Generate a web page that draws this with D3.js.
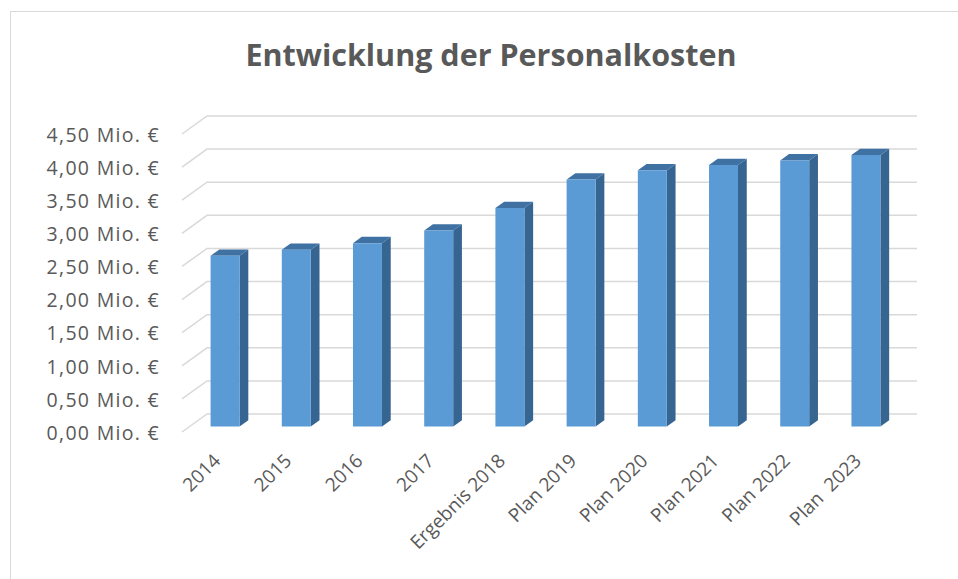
<!DOCTYPE html>
<html>
<head>
<meta charset="utf-8">
<script src="https://cdn.jsdelivr.net/npm/d3@7"></script>
<style>
  body { margin: 0; background: #fff; }
  svg { display: block; }
  text { font-family: "Open Sans", "Liberation Sans", sans-serif; fill: #595959; }
</style>
</head>
<body>
<svg id="chart" width="958" height="579"></svg>
<script>
// Chart data
var categories = ["2014", "2015", "2016", "2017", "Ergebnis 2018", "Plan 2019", "Plan 2020", "Plan 2021", "Plan 2022", "Plan  2023"];
var values = [2.58, 2.67, 2.77, 2.96, 3.30, 3.73, 3.87, 3.95, 4.02, 4.10]; // Mio. €
var yTicks = [0, 0.5, 1, 1.5, 2, 2.5, 3, 3.5, 4, 4.5];
var title = "Entwicklung der Personalkosten";

var svg = d3.select("#chart");

// chart border (right/bottom edges fall outside the picture)
svg.append("rect")
  .attr("x", 10.5).attr("y", 11.5)
  .attr("width", 980).attr("height", 600)
  .attr("fill", "#fff")
  .attr("stroke", "#d9d9d9")
  .attr("stroke-width", 1);

// front plane scales, depth is faked with an oblique offset
var x = d3.scaleBand()
  .domain(categories)
  .range([182, 894])
  .paddingInner(0.593)
  .paddingOuter(0.296);

var y = d3.scaleLinear()
  .domain([0, 4.5])
  .range([432, 134]);

var depthX = 25, depthY = -18;   // full depth of the floor
var barFront = 0.3, barBack = 0.65; // where the bar sits inside the depth

function shift(p, d) {
  return [p[0] + d * depthX, p[1] + d * depthY];
}

// gridlines: short diagonal on the floor side then across the back wall
var grid = svg.append("g").attr("class", "grid");
yTicks.forEach(function(t) {
  var front = [x.range()[0], y(t)];
  var back = shift(front, 1);
  grid.append("path")
    .attr("d", d3.line()([front, back, [917, back[1]]]))
    .attr("fill", "none")
    .attr("stroke", "#d9d9d9")
    .attr("stroke-width", 1.5);
});

// y axis labels
svg.append("g")
  .selectAll("text")
  .data(yTicks)
  .join("text")
    .attr("x", 160)
    .attr("y", function(d) { return y(d); })
    .attr("dy", "0.4em")
    .attr("text-anchor", "end")
    .style("font-size", "19.5px")
    .style("letter-spacing", "1.3px")
    .text(function(d) { return d3.format(".2f")(d).replace(".", ",") + " Mio. €"; });

// bars: front face, top, side
var bars = svg.append("g").selectAll("g")
  .data(values)
  .join("g");

bars.each(function(v, i) {
  var g = d3.select(this);
  var x0 = x(categories[i]), x1 = x0 + x.bandwidth();
  var fTL = shift([x0, y(v)], barFront), fTR = shift([x1, y(v)], barFront);
  var fBR = shift([x1, y(0)], barFront), fBL = shift([x0, y(0)], barFront);
  var bTL = shift([x0, y(v)], barBack), bTR = shift([x1, y(v)], barBack);
  var bBR = shift([x1, y(0)], barBack);

  g.append("path")
    .attr("d", d3.line()([fTR, bTR, bBR, fBR]) + "Z")
    .attr("fill", "#376592");
  g.append("path")
    .attr("d", d3.line()([fTL, bTL, bTR, fTR]) + "Z")
    .attr("fill", "#3f71a3");
  g.append("path")
    .attr("d", d3.line()([fTL, fTR, fBR, fBL]) + "Z")
    .attr("fill", "#5b9bd5");
});

// category labels, rotated
svg.append("g")
  .selectAll("text")
  .data(categories)
  .join("text")
    .attr("transform", function(d) {
      var cx = x(d) + x.bandwidth() / 2 + 4;
      return "translate(" + cx + ",462) rotate(-45)";
    })
    .attr("text-anchor", "end")
    .style("font-size", "19px")
    .style("white-space", "pre")
    .text(function(d) { return d; });

// title
svg.append("text")
  .attr("x", 491)
  .attr("y", 66)
  .attr("text-anchor", "middle")
  .style("font-size", "30.5px")
  .style("font-weight", "bold")
  .text(title);
</script>
</body>
</html>
